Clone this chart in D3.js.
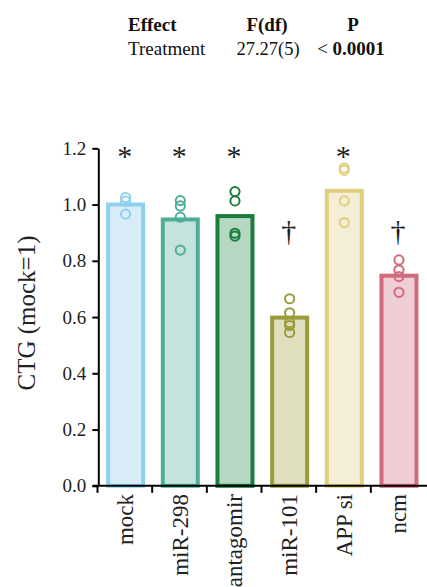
<!DOCTYPE html>
<html>
<head>
<meta charset="utf-8">
<script src="https://cdn.jsdelivr.net/npm/d3@7/dist/d3.min.js"></script>
<style>
  html, body { margin: 0; padding: 0; background: #fff; }
  svg { display: block; }
  svg text { font-family: "Liberation Serif", "Times New Roman", serif !important; }
</style>
</head>
<body>
<svg id="chart" width="427" height="587"></svg>
<script>
// ---- data ----
const categories = ["mock", "miR-298", "antagomir", "miR-101", "APP si", "ncm"];
const means = [1.0, 0.947, 0.959, 0.598, 1.049, 0.747];
const points = [
  [1.025, 1.012, 0.966],
  [1.014, 0.995, 0.955, 0.838],
  [1.046, 1.013, 0.898, 0.888],
  [0.665, 0.615, 0.58, 0.57, 0.545],
  [1.13, 1.122, 1.013, 0.936],
  [0.803, 0.767, 0.744, 0.688]
];
const marks = ["*", "*", "*", "\u2020", "*", "\u2020"];
const yTicks = [0, 0.2, 0.4, 0.6, 0.8, 1.0, 1.2];
const strokeColors = ["#8fd0ef", "#4dae97", "#1b7d3c", "#9c9b3a", "#e0cf7c", "#d26a7d"];
const fillColors = ["#d9edf8", "#c5e3dd", "#b6d7c2", "#dfdfc0", "#f4eed6", "#efcdd5"];
const tableHeader = ["Effect", "F(df)", "P"];
const tableRow = ["Treatment", "27.27(5)", "0.0001"];

// ---- layout ----
const SERIF = "'Liberation Serif', 'Times New Roman', serif";
const svg = d3.select("#chart");
const y = d3.scaleLinear().domain([0, 1.2]).range([485.8, 148.3]);
const xb = d3.scaleBand().domain(categories).range([97.5, 425.5]).padding(0);
const barW = 35;
const cx = c => xb(c) + xb.bandwidth() / 2 + 0.8;

function txt(sel) { return sel.style("font-family", SERIF).attr("fill", "#111"); }

// header table
txt(svg.append("text")).attr("x", 128).attr("y", 31).attr("font-size", 19).attr("font-weight", "bold").text(tableHeader[0]);
txt(svg.append("text")).attr("x", 267).attr("y", 31).attr("font-size", 19).attr("font-weight", "bold").attr("text-anchor", "middle").text(tableHeader[1]);
txt(svg.append("text")).attr("x", 353).attr("y", 31).attr("font-size", 19).attr("font-weight", "bold").attr("text-anchor", "middle").text(tableHeader[2]);
txt(svg.append("text")).attr("x", 128).attr("y", 55).attr("font-size", 19).text(tableRow[0]);
txt(svg.append("text")).attr("x", 268).attr("y", 55).attr("font-size", 18.5).attr("text-anchor", "middle").text(tableRow[1]);
const pt = txt(svg.append("text")).attr("x", 351).attr("y", 55).attr("font-size", 19).attr("text-anchor", "middle");
pt.append("tspan").text("< ");
pt.append("tspan").attr("font-weight", "bold").text(tableRow[2]);

// bars
const data = categories.map((c, i) => ({c, m: means[i], pts: points[i], mk: marks[i], s: strokeColors[i], f: fillColors[i]}));
svg.append("g").selectAll("rect").data(data).join("rect")
  .attr("x", d => cx(d.c) - barW / 2)
  .attr("y", d => y(d.m))
  .attr("width", barW)
  .attr("height", d => y(0) - y(d.m))
  .attr("fill", d => d.f)
  .attr("stroke", d => d.s)
  .attr("stroke-width", 4);

// points
data.forEach(d => {
  svg.append("g").selectAll("circle").data(d.pts).join("circle")
    .attr("cx", cx(d.c))
    .attr("cy", v => y(v))
    .attr("r", 4.6)
    .attr("fill", "none")
    .attr("stroke", d.s)
    .attr("stroke-width", 2);
});

// significance marks
const markLevel = {"*": 1.137, "\u2020": 0.872};
txt(svg.append("g").selectAll("text").data(data).join("text"))
  .attr("x", d => cx(d.c) - 1)
  .attr("y", d => y(markLevel[d.mk]))
  .attr("text-anchor", "middle")
  .attr("font-size", 30)
  .attr("fill", "#222")
  .text(d => d.mk);

// y axis
const yAxis = svg.append("g").attr("transform", "translate(98.3,0)")
  .call(d3.axisLeft(y).tickValues(yTicks).tickFormat(d3.format(".1f")).tickSize(6).tickSizeOuter(0));
yAxis.attr("font-family", null);
yAxis.select(".domain").attr("stroke", "#000").attr("stroke-width", 2);
yAxis.selectAll(".tick line").attr("stroke", "#000").attr("stroke-width", 2);
txt(yAxis.selectAll(".tick text")).attr("font-size", 19).attr("fill", "#222").attr("x", -12);

// x axis
svg.append("line").attr("x1", 92.5).attr("x2", 427).attr("y1", y(0)).attr("y2", y(0)).attr("stroke", "#000").attr("stroke-width", 2);
svg.append("g").selectAll("line").data(categories).join("line")
  .attr("x1", c => xb(c)).attr("x2", c => xb(c))
  .attr("y1", y(0)).attr("y2", y(0) + 7)
  .attr("stroke", "#000").attr("stroke-width", 2);
txt(svg.append("g").selectAll("text").data(categories).join("text"))
  .attr("transform", c => `translate(${xb(c) + xb.bandwidth() / 2},494) rotate(-90)`)
  .attr("text-anchor", "end")
  .attr("dy", "0.35em")
  .attr("font-size", 23)
  .attr("fill", "#222")
  .text(c => c);

// y label
txt(svg.append("text"))
  .attr("transform", "translate(35,313) rotate(-90)")
  .attr("text-anchor", "middle")
  .attr("font-size", 25)
  .attr("fill", "#222")
  .text("CTG (mock=1)");
</script>
</body>
</html>
